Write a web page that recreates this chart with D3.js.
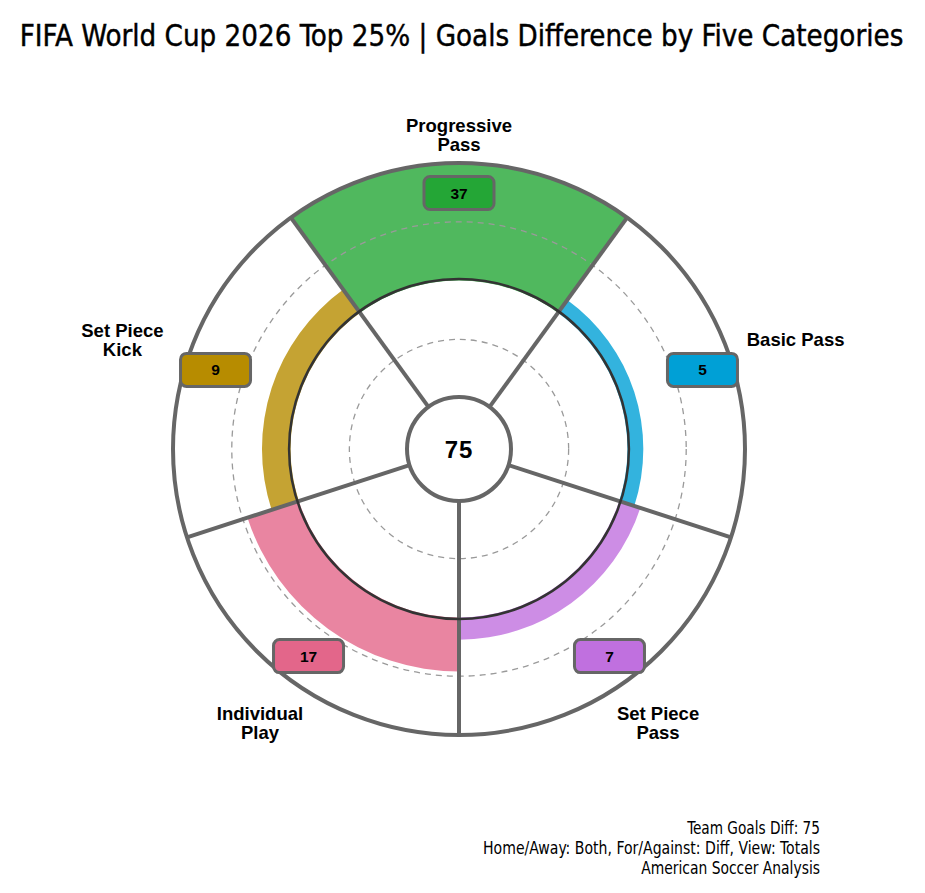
<!DOCTYPE html>
<html>
<head>
<meta charset="utf-8">
<script src="https://cdn.jsdelivr.net/npm/d3@7"></script>
<style>
  body { margin: 0; background: #fff; }
  .title { font-family: "DejaVu Sans Condensed", "Liberation Sans Narrow", Roboto, sans-serif; font-stretch: condensed; }
  .label { font-family: "Liberation Sans", Arial, sans-serif; font-weight: bold; }
</style>
</head>
<body>
<svg id="canvas"></svg>
<script>
let categories = ["Progressive Pass", "Basic Pass", "Set Piece Pass", "Individual Play", "Set Piece Kick"];
let labelLines = [["Progressive", "Pass"], ["Basic Pass"], ["Set Piece", "Pass"], ["Individual", "Play"], ["Set Piece", "Kick"]];
let values = [37, 5, 7, 17, 9];
let colors = ["#24a636", "#00a0d6", "#c070df", "#e3668a", "#b78c00"];
let gridValues = [-18.5, 18.5];
let totalDiff = 75;
let titleText = "FIFA World Cup 2026 Top 25% | Goals Difference by Five Categories";
let footerLines = [
  "Team Goals Diff: 75",
  "Home/Away: Both, For/Against: Diff, View: Totals",
  "American Soccer Analysis"
];

let width = 925;
let height = 893;
let cx = 459;
let cy = 449;
let outerR = 286;
let holeR = 52;
let boxR = 256;

let canvas = d3.select("#canvas").attr("width", width).attr("height", height);

let xScale = d3.scaleBand()
  .domain(categories)
  .range([-Math.PI / 5, 2 * Math.PI - Math.PI / 5]);
let yScale = d3.scaleLinear()
  .domain([-53, 37])
  .range([0, outerR]);

let g = canvas.append("g").attr("transform", "translate(" + cx + "," + cy + ")");

// bars
let arc = d3.arc();
g.selectAll(".bar")
  .data(categories)
  .enter()
  .append("path")
  .attr("class", "bar")
  .attr("fill", (c, i) => colors[i])
  .attr("fill-opacity", 0.8)
  .attr("d", (c, i) => arc({
    innerRadius: yScale(0),
    outerRadius: yScale(values[i]),
    startAngle: xScale(c),
    endAngle: xScale(c) + xScale.bandwidth()
  }));

// dashed grid
g.selectAll(".grid")
  .data(gridValues)
  .enter()
  .append("circle")
  .attr("r", (v) => yScale(v))
  .attr("fill", "none")
  .attr("stroke", "#9a9a9a")
  .attr("stroke-width", 1.3)
  .attr("stroke-dasharray", "6,5");

// spokes
g.selectAll(".spoke")
  .data(categories)
  .enter()
  .append("line")
  .attr("x1", (c) => holeR * Math.sin(xScale(c)))
  .attr("y1", (c) => -holeR * Math.cos(xScale(c)))
  .attr("x2", (c) => outerR * Math.sin(xScale(c)))
  .attr("y2", (c) => -outerR * Math.cos(xScale(c)))
  .attr("stroke", "#666")
  .attr("stroke-width", 4);

// inner ring
g.append("circle")
  .attr("r", yScale(0) + 1.5)
  .attr("fill", "none")
  .attr("stroke", "#333")
  .attr("stroke-width", 2.5);

// outer ring
g.append("circle")
  .attr("r", outerR)
  .attr("fill", "none")
  .attr("stroke", "#666")
  .attr("stroke-width", 4);

// center hole
g.append("circle")
  .attr("r", holeR)
  .attr("fill", "#fff")
  .attr("stroke", "#666")
  .attr("stroke-width", 4);

g.append("text")
  .attr("class", "label")
  .attr("x", 0)
  .attr("y", 9)
  .attr("text-anchor", "middle")
  .attr("font-size", 24)
  .attr("letter-spacing", 1)
  .text(totalDiff);

// value boxes
let mid = (c) => xScale(c) + xScale.bandwidth() / 2;
let boxes = g.selectAll(".box")
  .data(categories)
  .enter()
  .append("g")
  .attr("transform", (c) => "translate(" + (boxR * Math.sin(mid(c))) + "," + (-boxR * Math.cos(mid(c))) + ")");
boxes.append("rect")
  .attr("x", -35).attr("y", -16.5)
  .attr("width", 70).attr("height", 33)
  .attr("rx", 6)
  .attr("fill", (c, i) => colors[i])
  .attr("stroke", "#666")
  .attr("stroke-width", 3);
boxes.append("text")
  .attr("class", "label")
  .attr("y", 5.5)
  .attr("text-anchor", "middle")
  .attr("font-size", 15.5)
  .text((c, i) => values[i]);

// category labels
let labels = g.selectAll(".cat")
  .data(categories)
  .enter()
  .append("text")
  .attr("class", "label")
  .attr("text-anchor", "middle")
  .attr("font-size", 18.5)
  .attr("fill", "#000");
labels.each(function (c, i) {
  let t = d3.select(this);
  let a = mid(c);
  let r = 314 + 42 * Math.abs(Math.sin(a));
  let px = r * Math.sin(a);
  let py = -r * Math.cos(a);
  let n = labelLines[i].length;
  labelLines[i].forEach((line, j) => {
    t.append("tspan")
      .attr("x", px)
      .attr("y", py - (n - 1) * 19 / 2 + 6.5 + j * 19)
      .text(line);
  });
});

// fit condensed text to a width, stretching it upward like the narrow original face
let fitText = (sel, targetW, size, anchorX, baseY) => {
  sel.attr("font-size", size);
  let natural = sel.node().getComputedTextLength();
  let fs = Math.min(size, size * targetW / natural);
  sel.attr("font-size", fs)
    .attr("x", 0).attr("y", 0)
    .attr("transform", "translate(" + anchorX + "," + baseY + ") scale(1," + (size / fs) + ")");
};

// title
let title = canvas.append("text")
  .attr("class", "title")
  .attr("text-anchor", "middle")
  .attr("stroke", "#000")
  .attr("stroke-width", 0.4)
  .text(titleText);
fitText(title, 884, 31, 461.5, 46);

// footer
let footerWidths = [133, 337, 179];
canvas.selectAll(".footer")
  .data(footerLines)
  .enter()
  .append("text")
  .attr("class", "title")
  .attr("text-anchor", "end")
  .text((d) => d)
  .each(function (d, i) {
    fitText(d3.select(this), footerWidths[i], 17, 820, 834 + i * 20);
  });
</script>
</body>
</html>
